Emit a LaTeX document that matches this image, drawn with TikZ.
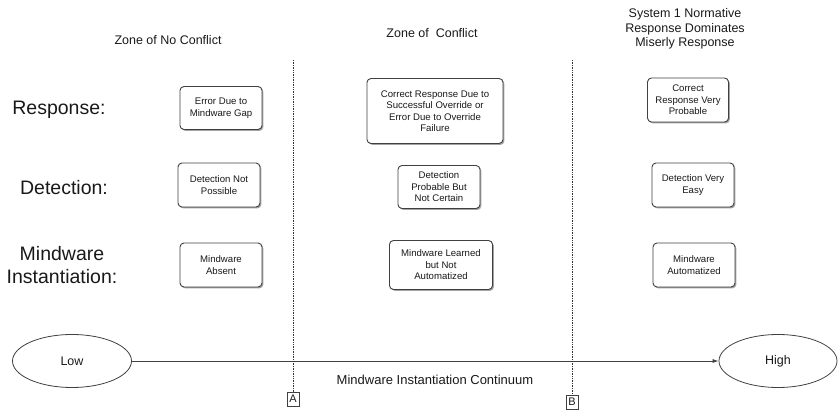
\documentclass[tikz,border=0pt]{standalone}
\usepackage{fontspec}
\setmainfont{Liberation Sans}
\usetikzlibrary{shapes.geometric,shadows,arrows.meta}
\begin{document}
\begin{tikzpicture}[x=1pt, y=-1pt,
  every node/.style={text=black!90},
  heading/.style={font=\fontsize{12.5}{14.5}\selectfont, align=center},
  rowlabel/.style={font=\fontsize{19.5}{23}\selectfont, align=center},
  statebox/.style={draw=black!75, line width=0.9pt, rounded corners=4pt, fill=white, align=center,
    inner sep=2pt, font=\fontsize{9.6}{11.5}\selectfont,
    drop shadow={shadow xshift=1.4pt, shadow yshift=-1.4pt, fill=black!45, opacity=0.8}},
  endpoint/.style={draw=black!75, line width=0.8pt, ellipse, inner sep=0pt, font=\fontsize{12.5}{14}\selectfont},
  marker/.style={draw=black!75, line width=0.6pt, inner sep=1.5pt, minimum width=12pt, minimum height=14pt, font=\fontsize{11}{12}\selectfont},
  border/.style={black!80, line width=0.7pt, densely dotted}]
\useasboundingbox (0,0) rectangle (838,411);
% column headings
\node[heading] (zonenone) at (168,40) {Zone of No Conflict};
\node[heading] (zoneconf) at (432,33) {Zone of\ \ Conflict};
\node[heading] (zonesys) at (685,29) {System 1 Normative\\Response Dominates\\Miserly Response};
% row labels
\node[rowlabel] (lresp) at (59,110) {Response:};
\node[rowlabel] (ldet) at (64,188) {Detection:};
\node[rowlabel] (lmind) at (62,265) {Mindware\\Instantiation:};
% zone of no conflict
\node[statebox, minimum width=82pt, minimum height=43pt] (resp1) at (221,108) {Error Due to\\Mindware Gap};
\node[statebox, minimum width=82pt, minimum height=44pt] (det1) at (219,185) {Detection Not\\Possible};
\node[statebox, minimum width=82pt, minimum height=44pt] (mind1) at (221,265) {Mindware\\Absent};
% zone of conflict
\node[statebox, minimum width=136pt, minimum height=65pt] (resp2) at (435,111) {Correct Response Due to\\Successful Override or\\Error Due to Override\\Failure};
\node[statebox, minimum width=82pt, minimum height=43pt] (det2) at (439,187) {Detection\\Probable But\\Not Certain};
\node[statebox, minimum width=103pt, minimum height=49pt] (mind2) at (441,265) {Mindware Learned\\but Not\\Automatized};
% system 1 dominates
\node[statebox, minimum width=81pt, minimum height=44pt] (resp3) at (688,100) {Correct\\Response Very\\Probable};
\node[statebox, minimum width=82pt, minimum height=44pt] (det3) at (693,185) {Detection Very\\Easy};
\node[statebox, minimum width=82pt, minimum height=44pt] (mind3) at (694,265) {Mindware\\Automatized};
% continuum
\node[endpoint, minimum width=119pt, minimum height=53pt] (low) at (72,361) {Low};
\node[endpoint, minimum width=118pt, minimum height=53pt] (high) at (778,361) {High};
\draw[black!75, line width=0.8pt, -{Latex[length=6pt, width=4pt]}] (low) -- (high);
\node[font=\fontsize{13}{15}\selectfont] (axis) at (435,380) {Mindware Instantiation Continuum};
% zone borders
\node[marker] (marka) at (293,399) {A};
\node[marker] (markb) at (572,402) {B};
\coordinate (topa) at (293,60);
\coordinate (topb) at (572,60);
\draw[border] (topa) -- (marka);
\draw[border] (topb) -- (markb);
\end{tikzpicture}
\end{document}
